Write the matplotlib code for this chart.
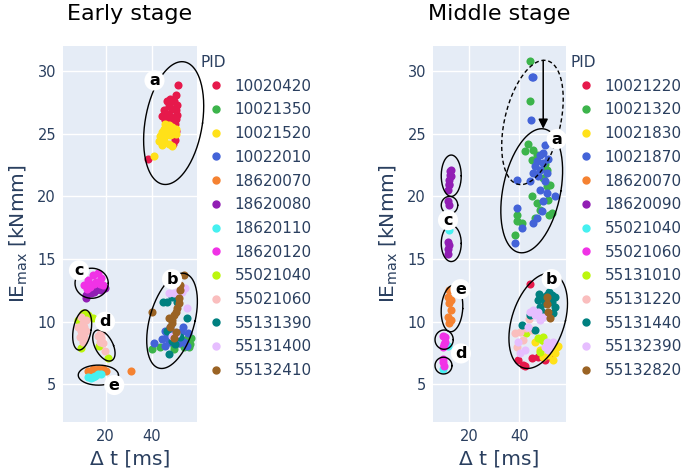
import numpy as np
import matplotlib
matplotlib.use('Agg')
import matplotlib.pyplot as plt
from matplotlib.lines import Line2D

# colours shared by both panels (legend order)
colors = ['#e6194b', '#3cb44b', '#ffe119', '#4363d8', '#f58231', '#911eb4', '#46f0f0',
          '#f032e6', '#bcf60c', '#fabebe', '#008080', '#e6beff', '#9a6324']

# ---- Early stage ----
early_pids = ['10020420', '10021350', '10021520', '10022010', '18620070', '18620080', '18620110',
              '18620120', '55021040', '55021060', '55131390', '55131400', '55132410']

e_10020420 = [(51.3, 28.9), (50.2, 28.1), (48.0, 27.8), (46.5, 27.6), (49.4, 27.6), (50.9, 27.3),
              (47.2, 27.2), (45.1, 26.9), (48.7, 27.0), (50.2, 26.9), (46.5, 26.6), (44.3, 26.4),
              (48.0, 26.4), (50.9, 26.5), (45.8, 26.1), (48.7, 26.1), (50.2, 26.2), (49.8, 25.8),
              (50.4, 25.2), (49.4, 24.8), (49.8, 24.5), (49.0, 24.2), (38.5, 23.0)]
e_10021350 = [(40.0, 7.8), (43.6, 8.0), (49.4, 7.8), (49.5, 8.1), (52.0, 8.3), (53.7, 8.0),
              (55.0, 8.6), (55.9, 8.0), (56.6, 8.2), (54.5, 8.4), (57.0, 8.7)]
e_10021520 = [(45.8, 25.8), (47.2, 25.7), (45.1, 25.4), (48.7, 25.5), (50.2, 25.4), (44.3, 25.1),
              (46.5, 25.1), (48.7, 25.0), (43.6, 24.8), (45.8, 24.8), (48.0, 24.9), (50.2, 25.0),
              (42.9, 24.4), (45.1, 24.4), (47.2, 24.2), (48.7, 24.0), (44.3, 24.1), (41.1, 23.2)]
e_10022010 = [(40.7, 8.3), (45.8, 9.3), (46.5, 8.9), (45.8, 8.1), (47.2, 8.4), (47.9, 9.6),
              (48.5, 9.0), (51.6, 8.3), (53.7, 8.4), (55.2, 8.1), (52.5, 9.2), (50.5, 8.6),
              (44.5, 8.6), (53.5, 9.6), (55.5, 9.1)]
e_18620070 = [(12.2, 6.1), (14.5, 6.2), (16.7, 6.2), (18.8, 6.2), (20.3, 6.1), (13.5, 6.0), (31.0, 6.1)]
e_18620080 = [(11.6, 12.1), (13.7, 12.3), (16.0, 12.5), (18.1, 12.5), (19.6, 12.7), (15.0, 12.4), (11.5, 11.9)]
e_18620110 = [(12.2, 5.6), (13.7, 5.5), (14.5, 5.6), (16.7, 5.8), (18.1, 5.8), (15.5, 5.7)]
e_18620120 = [(10.8, 12.9), (12.2, 13.3), (13.0, 12.8), (14.5, 13.7), (16.0, 13.2), (16.7, 13.9),
              (18.1, 13.5), (18.8, 12.9), (15.0, 13.0), (17.5, 13.0), (12.0, 12.6)]
e_55021040 = [(10.1, 10.7), (12.2, 10.5), (14.5, 10.3), (8.0, 10.1), (9.4, 7.9), (17.1, 8.1), (20.8, 7.1)]
e_55021060 = [(9.4, 10.4), (10.1, 9.9), (9.4, 9.3), (8.7, 8.8), (10.8, 8.8), (10.1, 8.4), (11.6, 10.1),
              (8.0, 9.6), (11.6, 9.3), (10.5, 9.6), (16.7, 8.9), (18.1, 8.7), (17.4, 8.4), (18.8, 8.3),
              (18.1, 9.2), (19.6, 7.7), (17.5, 9.0)]
e_55131390 = [(46.5, 11.6), (48.8, 12.0), (50.9, 11.6), (55.2, 10.3), (46.5, 9.3), (52.3, 8.8),
              (48.8, 8.5), (47.2, 7.4), (50.0, 8.2), (44.8, 11.6)]
e_55131400 = [(47.2, 12.3), (49.5, 12.3), (53.0, 12.4), (51.5, 12.6), (55.2, 11.1), (50.2, 9.0),
              (48.8, 8.9), (54.5, 12.7)]
e_55132410 = [(53.7, 13.7), (52.3, 12.5), (51.6, 11.9), (51.6, 11.5), (50.9, 11.1), (50.6, 10.8),
              (49.5, 10.5), (48.8, 10.1), (48.8, 9.9), (47.9, 9.6), (50.2, 9.2), (49.5, 8.7),
              (40.0, 10.8), (52.0, 12.9), (47.5, 10.3)]

# ---- Middle stage ----
middle_pids = ['10021220', '10021320', '10021830', '10021870', '18620070', '18620090', '55021040',
               '55021060', '55131010', '55131220', '55131440', '55132390', '55132820']

m_10021220 = [(44.3, 13.0), (45.0, 7.1), (47.6, 7.2), (39.6, 6.95), (41.6, 6.55), (50.3, 6.95),
              (52.3, 7.2), (42.5, 6.5)]
m_10021320 = [(44.3, 30.8), (44.3, 27.6), (43.4, 24.2), (42.3, 23.6), (45.6, 23.7), (47.0, 23.3),
              (45.0, 22.9), (51.0, 22.1), (52.3, 20.9), (51.0, 20.8), (45.0, 20.0), (47.0, 19.5),
              (48.3, 18.9), (53.0, 18.7), (39.0, 18.5), (39.0, 18.0), (41.0, 17.9), (38.3, 16.9),
              (51.6, 19.7), (49.5, 21.5), (50.5, 22.6), (46.5, 18.3), (52.0, 18.5)]
m_10021830 = [(46.3, 8.4), (55.0, 8.0), (51.6, 7.35), (53.7, 6.95), (49.6, 7.2), (54.3, 7.5),
              (48.3, 7.75), (55.6, 8.1)]
m_10021870 = [(45.0, 29.5), (45.6, 29.5), (44.6, 26.1), (50.3, 24.1), (48.3, 23.3), (47.0, 22.8),
              (49.6, 22.7), (45.6, 21.9), (48.3, 22.1), (51.0, 21.9), (44.3, 21.2), (39.0, 21.3),
              (48.3, 20.5), (51.0, 20.3), (54.3, 20.0), (49.6, 19.6), (49.0, 18.8), (47.0, 18.3),
              (45.6, 17.9), (39.0, 19.1), (41.0, 17.5), (38.3, 16.3), (47.6, 21.6), (49.6, 23.5),
              (51.6, 23.0), (46.5, 22.4), (50.5, 21.2)]
m_18620070 = [(11.5, 12.0), (12.1, 11.5), (12.8, 10.9), (11.5, 10.4), (12.1, 9.9), (12.8, 10.1),
              (12.8, 11.7), (12.1, 12.5)]
m_18620090 = [(12.8, 22.1), (12.4, 21.7), (12.8, 21.6), (11.9, 21.3), (12.1, 20.9), (11.9, 21.0),
              (11.5, 20.5), (12.5, 22.0), (11.5, 19.6), (11.9, 19.3), (11.5, 16.4), (11.9, 16.1),
              (11.5, 15.8), (11.6, 15.4)]
m_55021040 = [(12.1, 17.3), (11.5, 8.1), (9.5, 6.2)]
m_55021060 = [(9.5, 8.9), (10.5, 8.8), (10.2, 8.4), (9.5, 8.0), (10.0, 8.2), (9.5, 7.0), (9.8, 6.5), (9.6, 6.8)]
m_55131010 = [(47.6, 8.7), (49.0, 8.55), (50.3, 8.3), (49.6, 8.8), (42.9, 9.1), (48.5, 7.6)]
m_55131220 = [(38.3, 9.1), (40.3, 9.2), (42.9, 9.5), (45.0, 9.35), (41.6, 8.55), (39.0, 8.0), (44.0, 10.2)]
m_55131440 = [(47.6, 11.7), (49.0, 12.0), (51.0, 12.1), (53.0, 12.1), (54.3, 12.0), (48.3, 11.2),
              (50.3, 11.5), (53.0, 11.6), (54.3, 11.2), (49.0, 10.8), (53.7, 10.7), (41.0, 9.7),
              (46.3, 9.35), (44.3, 10.5), (52.0, 12.4), (47.8, 12.2)]
m_55132390 = [(44.3, 10.8), (46.3, 10.5), (48.3, 10.1), (49.6, 10.4), (43.6, 9.6), (40.3, 7.5),
              (42.3, 7.75), (51.0, 8.4), (52.3, 8.1), (53.7, 8.4), (50.3, 8.0), (39.6, 8.4),
              (51.6, 7.75), (47.5, 10.8), (45.5, 10.9)]
m_55132820 = [(51.0, 12.0), (51.3, 11.4), (51.6, 10.8), (52.3, 10.3)]

early_series = [e_10020420, e_10021350, e_10021520, e_10022010, e_18620070, e_18620080, e_18620110,
                e_18620120, e_55021040, e_55021060, e_55131390, e_55131400, e_55132410]
middle_series = [m_10021220, m_10021320, m_10021830, m_10021870, m_18620070, m_18620090, m_55021040,
                 m_55021060, m_55131010, m_55131220, m_55131440, m_55132390, m_55132820]

# cluster outlines: cx, cy, rx, ry, shear (x offset of top), dashed
early_ellipses = [(49.4, 25.85, 12.5, 4.9, 3.6, False), (48.7, 10.07, 10.0, 3.8, 4.5, False),
                  (13.9, 13.07, 7.2, 1.2, 0.0, False), (9.8, 9.34, 3.9, 1.6, 1.3, False),
                  (19.2, 8.1, 4.2, 1.24, -2.4, False), (16.8, 5.74, 8.7, 0.8, 0.0, False)]
middle_ellipses = [(45.3, 25.9, 11.4, 4.96, 4.65, True), (45.0, 20.45, 11.7, 4.95, 4.0, False),
                   (12.8, 21.65, 4.0, 1.65, 0.0, False), (12.1, 19.3, 3.3, 0.7, 0.0, False),
                   (12.8, 16.25, 4.0, 1.45, 0.0, False), (13.1, 11.05, 4.3, 1.85, 0.5, False),
                   (9.95, 8.57, 3.65, 0.77, 0.0, False), (9.7, 6.5, 3.4, 0.67, 0.0, False),
                   (47.6, 10.07, 10.9, 3.8, 4.3, False)]
early_labels = [('a', 41.1, 29.25), ('b', 48.7, 13.4), ('c', 8.4, 14.1), ('d', 19.7, 10.0), ('e', 23.7, 4.95)]
middle_labels = [('a', 55.0, 24.57), ('b', 53.0, 13.4), ('c', 11.5, 18.1), ('d', 16.7, 7.47), ('e', 16.5, 12.6)]

TXT = '#2a3f5f'
BG = '#e5ecf6'


def draw_panel(ax, series, pids, ellipses, labels, title, xlim, legend_x, ylabel_pad):
    ax.set_facecolor(BG)
    for pts, c in zip(series, colors):
        xs = [p[0] for p in pts]
        ys = [p[1] for p in pts]
        ax.scatter(xs, ys, s=34, color=c, linewidths=0, zorder=3)
    t = np.linspace(0, 2 * np.pi, 200)
    for cx, cy, rx, ry, sx, dashed in ellipses:
        ax.plot(cx + rx * np.cos(t) + sx * np.sin(t), cy + ry * np.sin(t), color='black',
                lw=1.0, ls=(0, (3, 2)) if dashed else '-', zorder=4, clip_on=False)
    for s, x, y in labels:
        ax.text(x, y, s, ha='center', va='center', fontsize=11.5, fontweight='bold', color='black',
                zorder=6, bbox=dict(boxstyle='circle,pad=0.16', fc='white', ec='none'))
    ax.set_xlim(*xlim)
    ax.set_ylim(2, 32)
    ax.set_xticks([20, 40])
    ax.set_yticks([5, 10, 15, 20, 25, 30])
    ax.grid(True, color='white', lw=1)
    ax.set_axisbelow(True)
    for sp in ax.spines.values():
        sp.set_visible(False)
    ax.tick_params(length=0, labelsize=10.5, labelcolor=TXT, pad=5)
    ax.set_title(title, fontsize=16, color='black', pad=19)
    ax.set_xlabel('Δ t [ms]', fontsize=14.5, color=TXT, labelpad=4)
    ax.set_ylabel('IE$_{\\mathrm{max}}$ [kNmm]', fontsize=14.5, color=TXT, labelpad=ylabel_pad)
    handles = [Line2D([], [], ls='none', marker='o', ms=5, color=c) for c in colors]
    leg = ax.legend(handles, pids, title='PID', loc='upper left', bbox_to_anchor=(legend_x, 0.884),
                    bbox_transform=ax.figure.transFigure, frameon=False, fontsize=11,
                    title_fontsize=11, alignment='left', handlelength=2.0, handletextpad=0.2,
                    labelspacing=0.57, borderpad=0, borderaxespad=0)
    for txt in leg.get_texts():
        txt.set_color(TXT)
    leg.get_title().set_color(TXT)


fig = plt.figure(figsize=(6.85, 4.74), dpi=100)
ax1 = fig.add_axes([63 / 685, 1 - 422 / 474, 134 / 685, 376 / 474])
ax2 = fig.add_axes([433 / 685, 1 - 422 / 474, 132.7 / 685, 376 / 474])

draw_panel(ax1, early_series, early_pids, early_ellipses, early_labels, 'Early stage', (1.5, 59.5), 201 / 685, 5)
draw_panel(ax2, middle_series, middle_pids, middle_ellipses, middle_labels, 'Middle stage', (5.5, 58.6), 571 / 685, 5)

ax2.annotate('', xy=(49.6, 25.4), xytext=(49.6, 30.85),
             arrowprops=dict(arrowstyle='-|>', color='black', lw=1.1, mutation_scale=14,
                             shrinkA=0, shrinkB=0), zorder=5)

fig.savefig('out.png', dpi=100)
